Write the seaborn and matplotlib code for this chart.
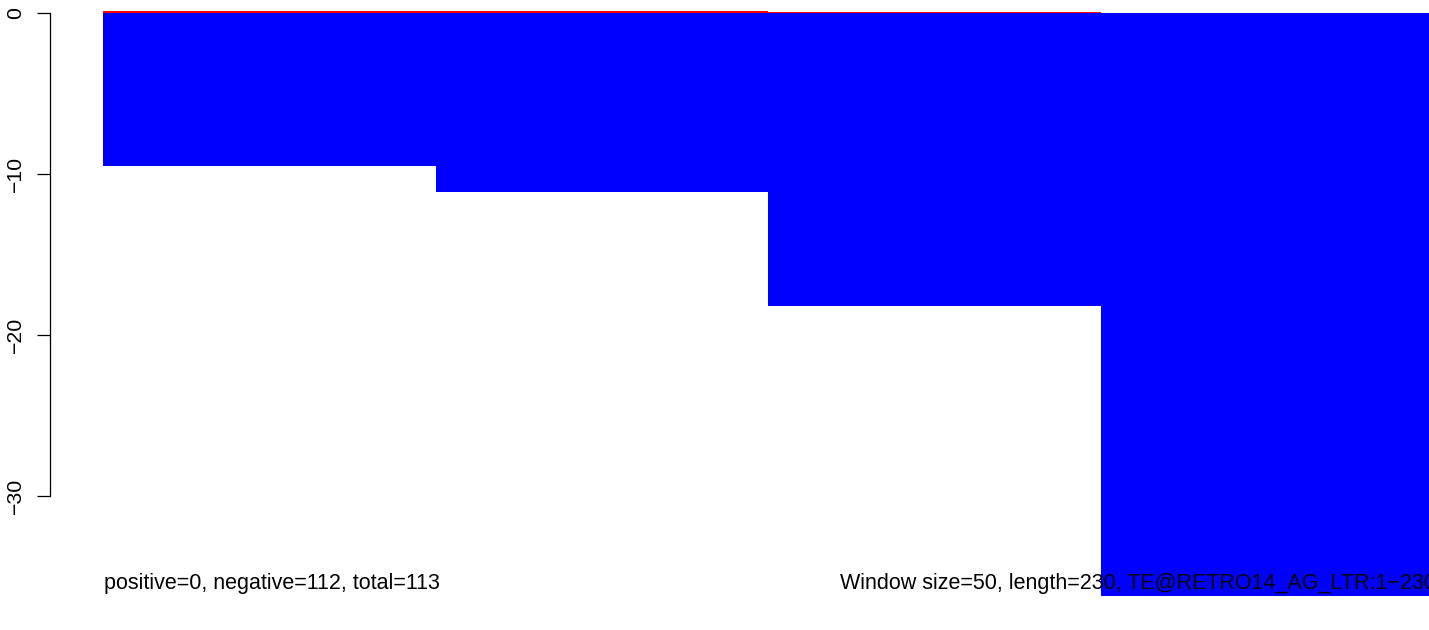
import matplotlib
matplotlib.use("Agg")
import matplotlib.pyplot as plt
import pandas as pd
import seaborn as sns

# Window bins and their scores
windows = ["1-50", "51-100", "101-150", "151-230"]
negative = [-9.48, -11.12, -18.18, -36.2]
positive = [0.12, 0.12, 0.06, 0.0]
yticks = [0, -10, -20, -30]
left_note = "positive=0, negative=112, total=113"
right_note = "Window size=50, length=230, TE@RETRO14_AG_LTR:1\u2212230"


def main():
    sns.set_style("white")
    plt.rcParams["font.family"] = ["Liberation Sans", "DejaVu Sans"]
    plt.rcParams["axes.unicode_minus"] = True

    df = pd.DataFrame({"window": windows, "neg": negative, "pos": positive})

    fig = plt.figure(figsize=(14.29, 6.3), dpi=100)
    ax = fig.add_axes([103 / 1429, 0, 1330 / 1429, 1])

    sns.barplot(data=df, x="window", y="neg", color="#0000ff", width=1,
                saturation=1, linewidth=0, ax=ax)
    sns.barplot(data=df, x="window", y="pos", color="#ff0000", width=1,
                saturation=1, linewidth=0, ax=ax)

    ax.set_xlim(-0.5, 3.5)
    ax.set_ylim(-38.32, 0.807)
    ax.set_xlabel("")
    ax.set_ylabel("")
    ax.set_xticks([])

    for side in ["top", "right", "bottom"]:
        ax.spines[side].set_visible(False)
    ax.spines["left"].set_position(("outward", 38))
    ax.spines["left"].set_bounds(-30, 0)
    ax.spines["left"].set_linewidth(0.9)
    ax.spines["left"].set_color("black")

    ax.set_yticks(yticks)
    ax.set_yticklabels([str(t).replace("-", "\u2212") for t in yticks],
                       rotation=90, va="center", fontsize=15.3)
    ax.tick_params(axis="y", direction="out", length=9.4, width=0.9,
                   pad=9, colors="black", left=True)

    # margin notes, drawn over the bars like R's mtext
    fig.text(104 / 1429, 1 - 589 / 630, left_note, fontsize=15.5,
             color="black", ha="left", va="baseline")
    fig.text(1.005, 1 - 589 / 630, right_note, fontsize=15.5,
             color="black", ha="right", va="baseline")

    fig.savefig("out.png", dpi=100)
    plt.close(fig)


if __name__ == "__main__":
    main()
